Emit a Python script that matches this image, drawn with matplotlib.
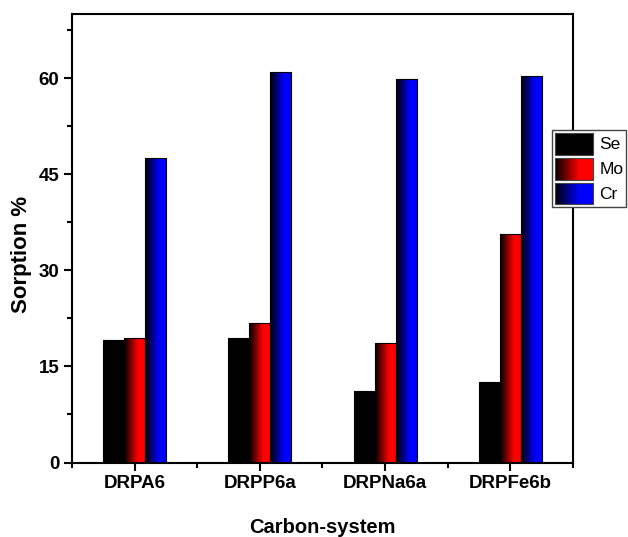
import numpy as np
import matplotlib.pyplot as plt
from matplotlib.colors import LinearSegmentedColormap
from matplotlib.patches import Rectangle
from matplotlib.legend_handler import HandlerBase
from matplotlib.ticker import MultipleLocator

plt.rcParams['font.family'] = ['Liberation Sans', 'DejaVu Sans']

systems = ['DRPA6', 'DRPP6a', 'DRPNa6a', 'DRPFe6b']
metals = ['Se', 'Mo', 'Cr']
se = [19.1, 19.5, 11.1, 12.5]
mo = [19.5, 21.7, 18.6, 35.6]
cr = [47.5, 61.0, 59.9, 60.3]
colors = ['#000000', '#ff0000', '#0000ff']


def grad_cmap(c):
    return LinearSegmentedColormap.from_list('g', [(0, 'black'), (0.65, c), (1, c)])


class GradHandler(HandlerBase):
    # legend box filled with thin strips, black -> colour
    def create_artists(self, legend, orig, xd, yd, width, height, fontsize, trans):
        cmap = grad_cmap(orig.get_facecolor())
        n = 24
        arts = []
        for i in range(n):
            r = Rectangle((-xd + width * i / n, -yd), width / n + 0.3, height,
                          facecolor=cmap((i + 0.5) / n), edgecolor='none', transform=trans)
            arts.append(r)
        arts.append(Rectangle((-xd, -yd), width, height, facecolor='none',
                              edgecolor='#444444', lw=0.8, transform=trans))
        return arts


fig = plt.figure(figsize=(6.28, 5.37), dpi=100)
ax = fig.add_axes([0.1146, 0.1387, 0.7978, 0.8353])

x = np.arange(1, len(systems) + 1)
w = 0.168
grad = np.linspace(0, 1, 64).reshape(1, -1)
handles = []
for k, vals in enumerate([se, mo, cr]):
    bars = ax.bar(x + (k - 1) * w, vals, width=w, facecolor='none',
                  edgecolor='black', linewidth=0.8, zorder=3)
    for b in bars:
        x0 = b.get_x()
        im = ax.imshow(grad, cmap=grad_cmap(colors[k]), aspect='auto',
                       extent=(x0, x0 + b.get_width(), 0, b.get_height()), zorder=2)
        im.set_clip_path(b)
    handles.append(Rectangle((0, 0), 1, 1, facecolor=colors[k]))

ax.set_xlim(0.5, 4.5)
ax.set_ylim(0, 70)
ax.set_xticks(x)
ax.set_xticklabels(systems)
ax.xaxis.set_minor_locator(MultipleLocator(1, offset=0.5))
ax.yaxis.set_major_locator(MultipleLocator(15))
ax.yaxis.set_minor_locator(MultipleLocator(7.5))
ax.tick_params(direction='out', width=1.5, length=6, labelsize=13.5, pad=3,
               top=False, right=False)
ax.tick_params(which='minor', direction='out', width=1.5, length=3.5,
               top=False, right=False)
for lab in ax.get_xticklabels() + ax.get_yticklabels():
    lab.set_fontweight('bold')
for s in ax.spines.values():
    s.set_linewidth(1.5)

ax.set_xlabel('Carbon-system', fontsize=14.5, fontweight='bold')
ax.set_ylabel('Sorption %', fontsize=16, fontweight='bold')
ax.xaxis.set_label_coords(0.5, -0.124)
ax.yaxis.set_label_coords(-0.08, 0.465)

leg = fig.legend(handles, metals, handler_map={Rectangle: GradHandler()},
                 loc='upper left', bbox_to_anchor=(0.879, 0.758),
                 prop={'size': 12.5},
                 handlelength=2.2, handleheight=1.55, labelspacing=0.18,
                 borderpad=0.17, borderaxespad=0, handletextpad=0.35,
                 fancybox=False, framealpha=1)
leg.get_frame().set_edgecolor('#444444')
leg.get_frame().set_linewidth(1.0)

fig.savefig('out.png', dpi=100)
